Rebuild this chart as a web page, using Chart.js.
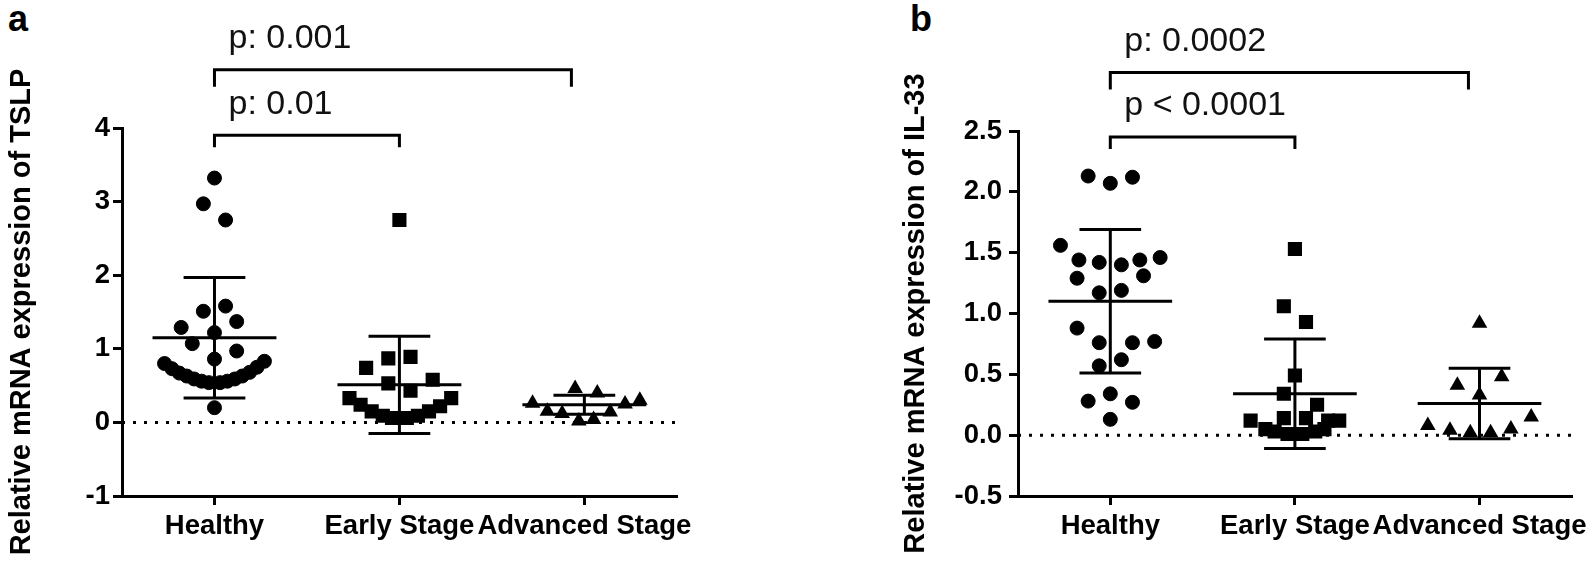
<!DOCTYPE html>
<html>
<head>
<meta charset="utf-8">
<script src="https://cdn.jsdelivr.net/npm/chart.js@4.4.0/dist/chart.umd.min.js"></script>
<style>
  body { margin: 0; background: #fff; width: 1595px; height: 567px; position: relative; overflow: hidden; font-family: "Liberation Sans", Arial, sans-serif; }
  .panel-label { position: absolute; top: 1px; font-weight: bold; font-size: 36px; line-height: 36px; color: #000; }
  #wrapA { position: absolute; left: 0; top: 0; width: 700px; height: 567px; }
  #wrapB { position: absolute; left: 880px; top: 0; width: 715px; height: 567px; }
</style>
</head>
<body>
<div class="panel-label" style="left:8px">a</div>
<div class="panel-label" style="left:910px">b</div>
<div id="wrapA"><canvas id="chartA" width="700" height="567"></canvas></div>
<div id="wrapB"><canvas id="chartB" width="715" height="567"></canvas></div>
<script>
const groups = ['Healthy', 'Early Stage', 'Advanced Stage'];

// panel a: TSLP
const tslpHealthy = [3.32, 2.97, 2.75, 1.51, 1.58, 1.37, 1.29, 1.22, 1.07, 0.97, 0.86, 0.80, 0.73, 0.67, 0.63, 0.59, 0.56, 0.54, 0.54, 0.56, 0.59, 0.63, 0.68, 0.75, 0.83, 0.20];
const tslpHealthyJitter = [0, -0.06, 0.06, -0.06, 0.06, 0.12, -0.18, 0, -0.12, 0.12, 0, -0.27, -0.23, -0.19, -0.15, -0.11, -0.07, -0.03, 0.03, 0.07, 0.11, 0.15, 0.19, 0.23, 0.27, 0];
const tslpEarly = [2.75, 0.74, 0.87, 0.89, 0.53, 0.58, 0.43, 0.33, 0.33, 0.24, 0.22, 0.15, 0.15, 0.09, 0.09, 0.06, 0.06];
const tslpEarlyJitter = [0, -0.18, -0.06, 0.06, -0.06, 0.18, 0.06, -0.27, 0.28, -0.21, 0.22, -0.15, 0.16, -0.09, 0.10, -0.04, 0.04];
const tslpAdvanced = [0.46, 0.40, 0.26, 0.30, 0.25, 0.15, 0.12, 0.14, 0.02, 0.04];
const tslpAdvancedJitter = [-0.05, 0.07, -0.28, 0.30, 0.22, -0.20, -0.12, 0.14, -0.03, 0.05];
const tslpMean = [1.15, 0.51, 0.24];
const tslpSD = [0.82, 0.66, 0.13];
const tslpPLabels = ['p: 0.01', 'p: 0.001'];
const tslpBracketEnd = [2, 2.93];
const tslpBracketLevel = [3.90, 4.79];

// panel b: IL-33
const il33Healthy = [2.13, 2.07, 2.12, 1.56, 1.44, 1.42, 1.40, 1.44, 1.46, 1.29, 1.31, 1.17, 1.19, 0.88, 0.76, 0.76, 0.77, 0.57, 0.62, 0.28, 0.34, 0.27, 0.13];
const il33HealthyJitter = [-0.12, 0, 0.12, -0.27, -0.17, -0.06, 0.06, 0.16, 0.27, -0.18, 0.18, -0.06, 0.06, -0.18, -0.06, 0.12, 0.24, -0.06, 0.06, -0.12, 0, 0.12, 0];
const il33Early = [1.53, 1.06, 0.93, 0.49, 0.34, 0.25, 0.12, 0.14, 0.14, 0.12, 0.12, 0.05, 0.03, 0.01, 0.01, 0.03, 0.05];
const il33EarlyJitter = [0, -0.06, 0.06, 0, -0.06, 0.12, -0.24, -0.06, 0.06, 0.18, 0.24, -0.16, -0.11, -0.04, 0.04, 0.11, 0.16];
const il33Advanced = [0.92, 0.41, 0.48, 0.33, 0.15, 0.08, 0.04, 0.02, 0.02, 0.05];
const il33AdvancedJitter = [0, -0.12, 0.12, 0, 0.28, -0.28, -0.16, -0.05, 0.06, 0.17];
const il33Mean = [1.10, 0.34, 0.26];
const il33SD = [0.59, 0.45, 0.29];
const il33PLabels = ['p < 0.0001', 'p: 0.0002'];
const il33BracketEnd = [2, 2.94];
const il33BracketLevel = [2.45, 2.98];

const FONT = '"Liberation Sans", Arial, sans-serif';
const MEAN_HALF = 0.335;
const CAP_HALF = 0.167;

function toPoints(values, jitter, group) {
    return values.map((v, i) => ({ x: group + jitter[i], y: v }));
}

function errorBarPoints(means, sds) {
    const pts = [];
    means.forEach((m, i) => {
        const g = i + 1, hi = m + sds[i], lo = m - sds[i];
        pts.push({ x: g - MEAN_HALF, y: m }, { x: g + MEAN_HALF, y: m }, { x: g, y: null });
        pts.push({ x: g, y: lo }, { x: g, y: hi }, { x: g, y: null });
        pts.push({ x: g - CAP_HALF, y: hi }, { x: g + CAP_HALF, y: hi }, { x: g, y: null });
        pts.push({ x: g - CAP_HALF, y: lo }, { x: g + CAP_HALF, y: lo }, { x: g, y: null });
    });
    return pts;
}

const bracketPlugin = {
    id: 'brackets',
    afterDraw(chart, args, opts) {
        const { ctx, scales: { x, y } } = chart;
        ctx.save();
        ctx.strokeStyle = '#000';
        ctx.lineWidth = 3;
        ctx.fillStyle = '#111';
        ctx.font = '34px ' + FONT;
        ctx.textBaseline = 'middle';
        ctx.textAlign = 'left';
        opts.ends.forEach((end, i) => {
            const x0 = x.getPixelForValue(1);
            const x1 = x.getPixelForValue(end);
            const yy = y.getPixelForValue(opts.levels[i]);
            const drop = opts.drops[i];
            ctx.beginPath();
            ctx.moveTo(x0, yy + drop);
            ctx.lineTo(x0, yy);
            ctx.lineTo(x1, yy);
            ctx.lineTo(x1, yy + drop);
            ctx.stroke();
            ctx.fillText(opts.labels[i], x0 + 14, yy - 31);
        });
        ctx.restore();
    }
};

function makeChart(id, cfg) {
    const tickFont = { family: FONT, size: 27.5, weight: 'bold' };
    const axisGrid = { drawOnChartArea: false, color: '#000', lineWidth: 3, tickLength: 9 };
    const axisBorder = { color: '#000', width: 3 };

    new Chart(document.getElementById(id), {
        type: 'scatter',
        data: {
            datasets: [
                { type: 'line', data: errorBarPoints(cfg.mean, cfg.sd), borderColor: '#000', borderWidth: 3, pointRadius: 0, spanGaps: false, borderCapStyle: 'butt' },
                { type: 'scatter', data: toPoints(cfg.series[0], cfg.jitter[0], 1), pointStyle: 'circle', pointRadius: 7, backgroundColor: '#000', borderColor: '#000', borderWidth: 1 },
                { type: 'scatter', data: toPoints(cfg.series[1], cfg.jitter[1], 2), pointStyle: 'rect', pointRadius: 10, backgroundColor: '#000', borderColor: '#000', borderWidth: 0 },
                { type: 'scatter', data: toPoints(cfg.series[2], cfg.jitter[2], 3), pointStyle: 'triangle', pointRadius: 9, backgroundColor: '#000', borderColor: '#000', borderWidth: 0 },
                { type: 'line', data: [{ x: 0.5, y: 0 }, { x: 3.5, y: 0 }], borderColor: '#000', borderWidth: 3, borderDash: [3, 8], pointRadius: 0 }
            ]
        },
        options: {
            responsive: false,
            animation: false,
            events: [],
            layout: { padding: { top: cfg.padTop, right: cfg.padRight, left: 0, bottom: 0 } },
            plugins: {
                legend: { display: false },
                tooltip: { enabled: false },
                brackets: { ends: cfg.bracketEnd, levels: cfg.bracketLevel, labels: cfg.pLabels, drops: [12, 17] }
            },
            scales: {
                x: {
                    type: 'linear',
                    min: 0.5,
                    max: 3.5,
                    afterBuildTicks: s => { s.ticks = groups.map((g, i) => ({ value: i + 1 })); },
                    afterFit: s => { s.height = 71; },
                    ticks: { callback: v => groups[v - 1], autoSkip: false, maxRotation: 0, minRotation: 0, color: '#000', font: tickFont, padding: 5 },
                    grid: axisGrid,
                    border: axisBorder
                },
                y: {
                    min: cfg.yMin,
                    max: cfg.yMax,
                    afterFit: s => { s.width = cfg.axisWidth; },
                    ticks: { stepSize: cfg.yStep, color: '#000', font: tickFont, padding: cfg.tickPad, callback: cfg.yFormat },
                    grid: axisGrid,
                    border: axisBorder,
                    title: { display: true, text: cfg.title, color: '#000', font: { family: FONT, size: 29, weight: 'bold' }, padding: { top: cfg.titlePad, bottom: 0 } }
                }
            }
        },
        plugins: [bracketPlugin]
    });
}

makeChart('chartA', {
    series: [tslpHealthy, tslpEarly, tslpAdvanced],
    jitter: [tslpHealthyJitter, tslpEarlyJitter, tslpAdvancedJitter],
    mean: tslpMean, sd: tslpSD,
    pLabels: tslpPLabels, bracketEnd: tslpBracketEnd, bracketLevel: tslpBracketLevel,
    yMin: -1, yMax: 4, yStep: 1, yFormat: v => v,
    title: 'Relative mRNA expression of TSLP',
    axisWidth: 122, tickPad: 3, titlePad: 5, padTop: 128, padRight: 22
});

makeChart('chartB', {
    series: [il33Healthy, il33Early, il33Advanced],
    jitter: [il33HealthyJitter, il33EarlyJitter, il33AdvancedJitter],
    mean: il33Mean, sd: il33SD,
    pLabels: il33PLabels, bracketEnd: il33BracketEnd, bracketLevel: il33BracketLevel,
    yMin: -0.5, yMax: 2.5, yStep: 0.5, yFormat: v => v.toFixed(1),
    title: 'Relative mRNA expression of IL-33',
    axisWidth: 138, tickPad: 7, titlePad: 19, padTop: 131, padRight: 21
});
</script>
</body>
</html>
